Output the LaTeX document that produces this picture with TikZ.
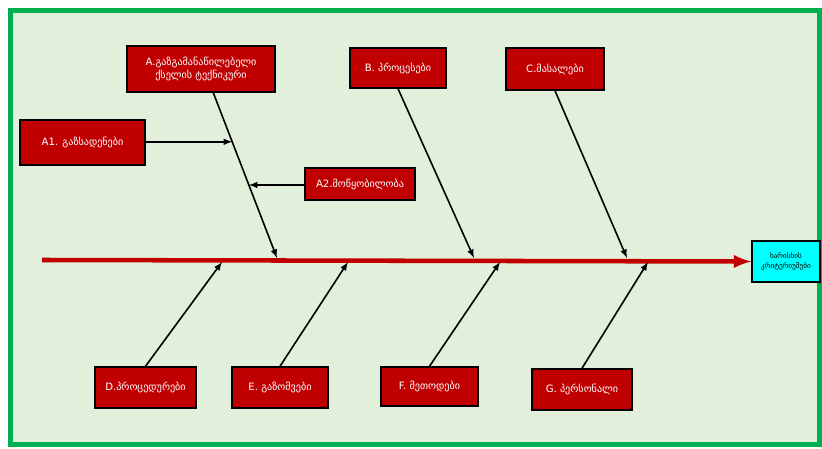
\documentclass[tikz,border=0pt]{standalone}
\usepackage{fontspec}
\newfontfamily\geofont{DejaVu Sans}
\definecolor{framegreen}{RGB}{0,176,80}
\definecolor{paper}{RGB}{226,239,218}
\definecolor{causered}{RGB}{192,0,0}
\definecolor{headcyan}{RGB}{0,255,255}
\begin{document}
\begin{tikzpicture}[x=0.75pt,y=-0.75pt,
   cause/.style={draw=black,line width=1.1pt,fill=causered,text=white,align=center,
     inner sep=1pt,font=\geofont\fontsize{7.6}{9.5}\selectfont},
   bone/.style={black,line width=1.2pt,-latex},
   spine/.style={causered,line width=3.4pt,-latex}]
   \useasboundingbox (0,0) rectangle (822,449);
   \filldraw [draw=framegreen,fill=paper,line width=3.75pt] (10.5,11) rectangle (819,444);
   % causes above the spine
   \node [cause,minimum width=111pt,minimum height=34.5pt] (A) at (201,69)
     {A.გაზგამანაწილებელი\\ქსელის ტექნიკური};
   \node [cause,minimum width=93.75pt,minimum height=33.75pt] (A1) at (82.5,142.5) {A1. გაზსადენები};
   \node [cause,minimum width=82.5pt,minimum height=24pt] (A2) at (360,184) {A2.მოწყობილობა};
   \node [cause,minimum width=72pt,minimum height=30pt] (B) at (398,68) {B. პროცესები};
   \node [cause,minimum width=73.5pt,minimum height=31.5pt] (C) at (555,69) {C.მასალები};
   % causes below the spine
   \node [cause,minimum width=75.75pt,minimum height=30.75pt] (D) at (145.5,387.5) {D.პროცედურები};
   \node [cause,minimum width=72pt,minimum height=30.75pt] (E) at (280,387.5) {E. გაზომვები};
   \node [cause,minimum width=72.75pt,minimum height=29.25pt] (F) at (429.5,386.5) {F. მეთოდები};
   \node [cause,minimum width=75pt,minimum height=30.75pt] (G) at (582,389.5) {G. პერსონალი};
   % effect
   \node [draw=black,line width=1.1pt,fill=headcyan,align=center,inner sep=1pt,
     minimum width=51pt,minimum height=30.75pt,font=\geofont\fontsize{5.4}{8}\selectfont]
     (Q) at (786,261.5) {ხარისხის\\კრიტერიუმები};
   \coordinate (tail) at (42,260);
   \draw [spine] (tail) -- (Q.west);
   % ends of the bones on the spine
   \coordinate (a) at (277,258);
   \coordinate (b) at (474,258);
   \coordinate (c) at (627,258);
   \coordinate (d) at (222,262);
   \coordinate (e) at (348,262);
   \coordinate (f) at (500,262);
   \coordinate (g) at (648,262);
   \coordinate (a0) at (213,92);
   \draw [bone] (a0) -- (a);
   \path (a0) -- (a) coordinate[pos=0.30] (a1hit) coordinate[pos=0.56] (a2hit);
   \draw [bone] (A1.east |- a1hit) -- (a1hit);
   \draw [bone] (A2.west |- a2hit) -- (a2hit);
   \draw [bone] (B.south) -- (b);
   \draw [bone] (C.south) -- (c);
   \draw [bone] (D.north) -- (d);
   \draw [bone] (E.north) -- (e);
   \draw [bone] (F.north) -- (f);
   \draw [bone] (G.north) -- (g);
\end{tikzpicture}
\end{document}
